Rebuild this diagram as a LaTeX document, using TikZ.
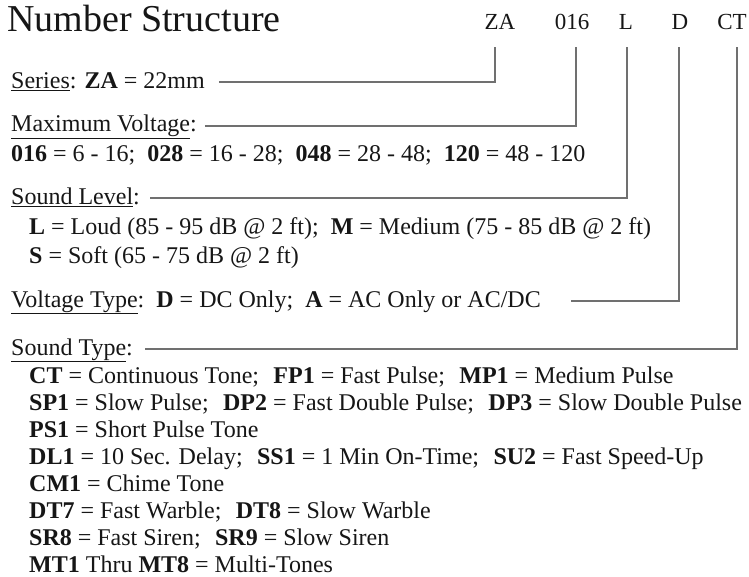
\documentclass[tikz,border=0pt]{standalone}
\usepackage{fontspec}
\setmainfont{Liberation Serif}
\usetikzlibrary{positioning}
\definecolor{ink}{RGB}{22,22,22}
\definecolor{linegray}{RGB}{112,112,112}
\tikzset{
  heading/.style={font=\fontsize{38}{44}\selectfont,text=ink,anchor=base west,inner sep=0pt},
  code/.style={font=\fontsize{23}{26}\selectfont,text=ink,anchor=base,inner sep=0pt},
  entry/.style={font=\fontsize{24}{28}\selectfont,text=ink,anchor=base west,inner sep=0pt},
  link/.style={draw=linegray,line width=1.6pt}
}
\newcommand{\gapsep}{\hspace{0.5em}}
\newcommand{\widesep}{\hspace{0.6em}}

\begin{document}
\begin{tikzpicture}[x=1pt,y=1pt]
  \useasboundingbox (0,0) rectangle (749,-577);
  % title and the part number
  \node[heading] (title) at (7,-32) {Number Structure};
  \node[code] (codeZA)  at (500,-30) {ZA};
  \node[code] (code016) at (572,-30) {016};
  \node[code] (codeL)   at (626,-30) {L};
  \node[code] (codeD)   at (680,-30) {D};
  \node[code] (codeCT)  at (732,-30) {CT};

  % fields
  \node[entry] (series)  at (11,-89)  {\underline{Series}: \textbf{ZA} = 22mm};
  \node[entry] (maxvolt) at (11,-132) {\underline{Maximum Voltage}:};
  \node[entry] (voltval) at (11,-162) {\textbf{016} = 6 - 16;\gapsep\textbf{028} = 16 - 28;\gapsep\textbf{048} = 28 - 48;\gapsep\textbf{120} = 48 - 120};
  \node[entry] (level)   at (11,-205) {\underline{Sound Level}:};
  \node[entry] (loud)    at (29,-235) {\textbf{L} = Loud (85 - 95 dB @ 2 ft);\gapsep\textbf{M} = Medium (75 - 85 dB @ 2 ft)};
  \node[entry] (soft)    at (29,-263) {\textbf{S} = Soft (65 - 75 dB @ 2 ft)};
  \node[entry] (vtype)   at (11,-307) {\underline{Voltage Type}:\gapsep\textbf{D} = DC Only;\gapsep\textbf{A} = AC Only or AC/DC};
  \node[entry] (stype)   at (11,-355) {\underline{Sound Type}:};

  % sound type codes
  \node[entry] (ct)  at (29,-383)   {\textbf{CT} = Continuous Tone;\widesep\textbf{FP1} = Fast Pulse;\widesep\textbf{MP1} = Medium Pulse};
  \node[entry] (sp1) at (29,-410.1) {\textbf{SP1} = Slow Pulse;\widesep\textbf{DP2} = Fast Double Pulse;\widesep\textbf{DP3} = Slow Double Pulse};
  \node[entry] (ps1) at (29,-437.2) {\textbf{PS1} = Short Pulse Tone};
  \node[entry] (dl1) at (29,-464.3) {\textbf{DL1} = 10 Sec. Delay;\widesep\textbf{SS1} = 1 Min On-Time;\widesep\textbf{SU2} = Fast Speed-Up};
  \node[entry] (cm1) at (29,-491.4) {\textbf{CM1} = Chime Tone};
  \node[entry] (dt7) at (29,-518.5) {\textbf{DT7} = Fast Warble;\widesep\textbf{DT8} = Slow Warble};
  \node[entry] (sr8) at (29,-545.6) {\textbf{SR8} = Fast Siren;\widesep\textbf{SR9} = Slow Siren};
  \node[entry] (mt1) at (29,-572.7) {\textbf{MT1} Thru \textbf{MT8} = Multi-Tones};

  % leader lines up to the part number
  \draw[link] ([xshift=14pt,yshift=7pt]series.base east) -| ([xshift=-5pt,yshift=-17pt]codeZA.south);
  \draw[link] ([xshift=8pt,yshift=6pt]maxvolt.base east) -| ([xshift=4pt,yshift=-17pt]code016.south);
  \draw[link] ([xshift=10pt,yshift=7pt]level.base east) -| ([xshift=1pt,yshift=-17pt]codeL.south);
  \draw[link] ([xshift=30pt,yshift=6pt]vtype.base east) -| ([xshift=-1pt,yshift=-17pt]codeD.south);
  \draw[link] ([xshift=12pt,yshift=6pt]stype.base east) -| ([xshift=5pt,yshift=-17pt]codeCT.south);
\end{tikzpicture}
\end{document}
